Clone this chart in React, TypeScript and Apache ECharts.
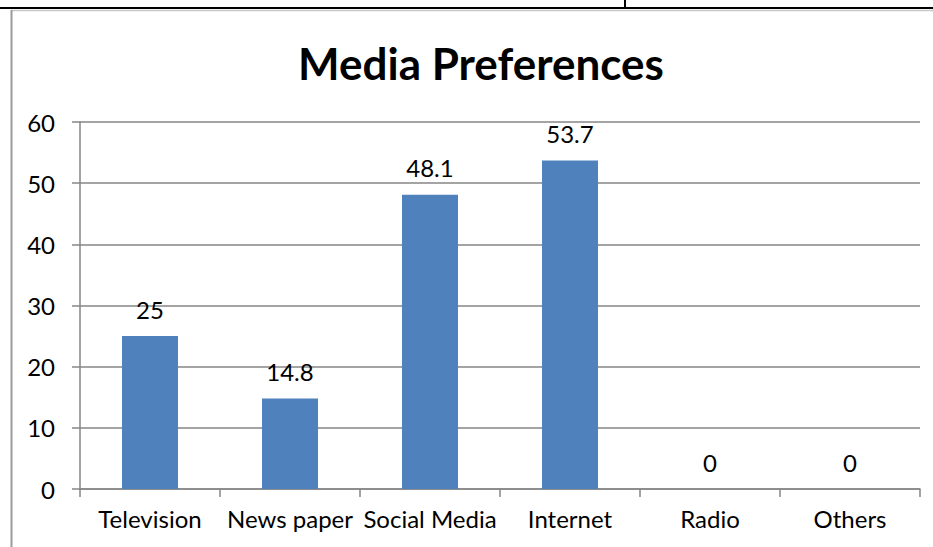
import React, { useEffect, useRef } from "react";
import * as echarts from "echarts";

const categories = ["Television", "News paper", "Social Media", "Internet", "Radio", "Others"];
const values = [25, 14.8, 48.1, 53.7, 0, 0];
const yTicks = [0, 10, 20, 30, 40, 50, 60];
const chartTitle = "Media Preferences";

const FONT = "Lato, 'Open Sans', sans-serif";

export default function App() {
  const ref = useRef<HTMLDivElement>(null);
  useEffect(() => {
    document.body.style.margin = "0";
    const chart = echarts.init(ref.current!, null, { renderer: "svg" });
    chart.setOption({
      animation: false,
      backgroundColor: "#ffffff",
      textStyle: { fontFamily: FONT },
      grid: { left: 80, right: 13, top: 122, bottom: 58, containLabel: false },
      xAxis: {
        type: "category",
        data: categories,
        axisLine: { lineStyle: { color: "#868686", width: 1.5 } },
        axisTick: { show: true, length: 8, alignWithLabel: false, lineStyle: { color: "#868686", width: 1.5 } },
        axisLabel: { color: "#000000", fontSize: 24, fontFamily: FONT, margin: 17, interval: 0 },
      },
      yAxis: {
        type: "value",
        min: yTicks[0],
        max: yTicks[yTicks.length - 1],
        interval: 10,
        axisLine: { show: true, lineStyle: { color: "#868686", width: 1.5 } },
        axisTick: { show: true, length: 8, lineStyle: { color: "#868686", width: 1.5 } },
        axisLabel: { color: "#000000", fontSize: 24, fontFamily: FONT, margin: 25 },
        splitLine: { show: true, lineStyle: { color: "#868686", width: 1.5 } },
      },
      series: [
        {
          type: "bar",
          data: values,
          barWidth: "40%",
          itemStyle: { color: "#4F81BD" },
          label: {
            show: true,
            position: "top",
            distance: 15,
            color: "#000000",
            fontSize: 24,
            fontFamily: FONT,
          },
        },
      ],
      graphic: [
        { type: "line", shape: { x1: 0, y1: 8, x2: 933, y2: 8 }, style: { stroke: "#000000", lineWidth: 2 }, z: 10 },
        { type: "line", shape: { x1: 625, y1: 0, x2: 625, y2: 8 }, style: { stroke: "#000000", lineWidth: 2 }, z: 10 },
        { type: "line", shape: { x1: 11, y1: 10.5, x2: 933, y2: 10.5 }, style: { stroke: "#c8c8c8", lineWidth: 1.5 }, z: 10 },
        { type: "line", shape: { x1: 11.5, y1: 10, x2: 11.5, y2: 547 }, style: { stroke: "#9a9a9a", lineWidth: 2 }, z: 10 },
        {
          type: "text",
          x: 481,
          y: 63,
          style: {
            text: chartTitle,
            fill: "#000000",
            font: `bold 44px ${FONT}`,
            textAlign: "center",
            textVerticalAlign: "middle",
          },
          z: 10,
        },
      ],
    });
    return () => chart.dispose();
  }, []);
  return <div ref={ref} style={{ position: "absolute", left: 0, top: 0, width: 933, height: 547 }} />;
}
